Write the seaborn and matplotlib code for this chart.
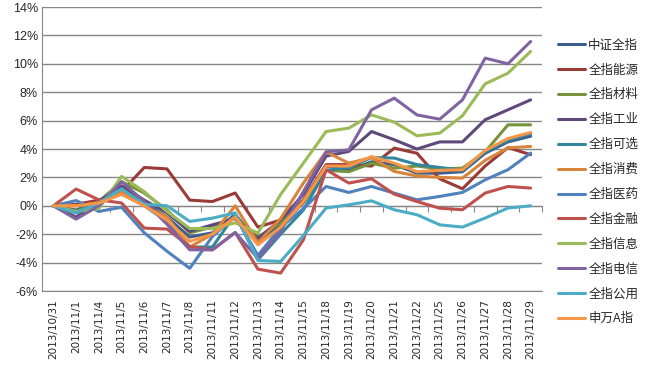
import pandas as pd
import matplotlib
matplotlib.use("Agg")
import matplotlib.pyplot as plt
import seaborn as sns

# trading days
dates = ['2013/10/31', '2013/11/1', '2013/11/4', '2013/11/5', '2013/11/6', '2013/11/7',
         '2013/11/8', '2013/11/11', '2013/11/12', '2013/11/13', '2013/11/14', '2013/11/15',
         '2013/11/18', '2013/11/19', '2013/11/20', '2013/11/21', '2013/11/22', '2013/11/25',
         '2013/11/26', '2013/11/27', '2013/11/28', '2013/11/29']

# cumulative returns in %
zz_all = [0, -0.3, 0.3, 1.3, 0.2, -0.8, -2.2, -1.9, -0.6, -2.6, -1.3, 0.2, 2.8, 2.5, 3.1, 2.9, 2.3, 2.3, 2.4, 3.7, 4.5, 4.9]
energy = [0, 0.1, 0.4, 1.0, 2.7, 2.6, 0.4, 0.3, 0.9, -1.5, -1.0, 0.4, 2.9, 2.9, 2.8, 4.06, 3.7, 1.9, 1.2, 2.8, 4.1, 3.6]
materials = [0, -0.4, 0.3, 1.7, 0.9, -0.3, -1.9, -1.5, -0.8, -2.2, -1.2, 0.3, 2.5, 2.4, 3.0, 2.65, 2.8, 2.6, 2.65, 3.8, 5.7, 5.7]
industry = [0, -0.8, 0.3, 1.4, 0.4, -0.5, -1.8, -1.34, -0.9, -2.3, -1.0, 0.8, 3.5, 3.83, 5.23, 4.65, 4.0, 4.5, 4.5, 6.06, 6.76, 7.46]
discretionary = [0, -0.5, 0.2, 1.1, 0.0, -1.1, -2.9, -2.9, -0.6, -3.8, -2.0, -0.3, 2.5, 2.7, 3.4, 3.36, 2.9, 2.7, 2.5, 3.8, 4.6, 5.07]
staples = [0, 0.0, 0.2, 1.0, 0.0, -0.8, -2.9, -2.0, 0.0, -2.6, -0.9, 1.6, 3.8, 3.0, 3.4, 2.42, 2.1, 2.0, 1.95, 3.2, 4.08, 4.18]
health = [0, 0.37, -0.4, -0.1, -1.9, -3.2, -4.4, -2.16, -0.7, -3.5, -1.5, -0.2, 1.36, 0.94, 1.36, 0.89, 0.42, 0.66, 0.94, 1.83, 2.54, 3.71]
finance = [0, 1.18, 0.42, 0.2, -1.57, -1.64, -2.87, -3.1, -1.88, -4.46, -4.74, -2.4, 2.54, 1.6, 1.9, 0.82, 0.3, -0.17, -0.28, 0.9, 1.36, 1.25]
info_tech = [0, -0.4, -0.2, 2.07, 1.0, -0.4, -1.6, -1.6, -1.2, -1.92, 0.8, 3.0, 5.23, 5.47, 6.4, 5.89, 4.93, 5.12, 6.34, 8.59, 9.34, 10.87]
telecom = [0, -0.94, 0.0, 1.7, 0.3, -1.3, -3.1, -3.1, -1.88, -3.7, -1.8, 1.0, 3.8, 3.94, 6.76, 7.58, 6.4, 6.1, 7.46, 10.4, 10.0, 11.57]
utilities = [0, -0.5, 0.2, 1.2, 0.1, 0.0, -1.1, -0.87, -0.5, -3.85, -3.92, -2.1, -0.16, 0.07, 0.35, -0.28, -0.63, -1.34, -1.5, -0.86, -0.16, 0.0]
sw_a = [0, 0.0, 0.2, 0.8, 0.0, -1.0, -2.5, -2.0, -0.8, -2.75, -1.5, 0.3, 2.8, 2.8, 3.47, 3.0, 2.4, 2.5, 2.54, 3.9, 4.74, 5.16]

names = ['中证全指', '全指能源', '全指材料', '全指工业', '全指可选', '全指消费',
         '全指医药', '全指金融', '全指信息', '全指电信', '全指公用', '申万A指']
series = [zz_all, energy, materials, industry, discretionary, staples,
          health, finance, info_tech, telecom, utilities, sw_a]
colors = ['#3B5E8C', '#9A3B38', '#77933C', '#5F497A', '#31859C', '#D9843B',
          '#4F81BD', '#C0504D', '#9BBB59', '#8064A2', '#4BACC6', '#F79646']

rows = []
for name, vals in zip(names, series):
    for i, v in enumerate(vals):
        rows.append({'idx': i, 'value': v / 100.0, 'name': name})
df = pd.DataFrame(rows)

sns.set_style('white')
plt.rcParams['font.family'] = ['Noto Sans CJK SC', 'DejaVu Sans']

fig = plt.figure(figsize=(6.5, 3.68), dpi=100)
ax = fig.add_axes([42 / 650, 77 / 368, 500 / 650, 284 / 368])

sns.lineplot(data=df, x='idx', y='value', hue='name', hue_order=names,
             palette=dict(zip(names, colors)), linewidth=2.2, ax=ax)

ax.set_xlim(-0.5, len(dates) - 0.5)
ax.set_ylim(-0.06, 0.14)
yt = [x / 100 for x in range(-6, 15, 2)]
ax.set_yticks(yt)
ax.set_yticklabels([f'{int(round(t * 100))}%' for t in yt], family='Liberation Sans', fontsize=9)
ax.yaxis.grid(True, color='#868686', linewidth=1)
ax.set_axisbelow(True)
ax.set_xticks(range(len(dates)))
ax.set_xticklabels(dates, rotation=90, family='DejaVu Sans', fontsize=7.5)
ax.tick_params(axis='x', length=0, pad=6)
ax.tick_params(axis='y', length=0, pad=3)
ax.set_xlabel('')
ax.set_ylabel('')
for s in ['top', 'right']:
    ax.spines[s].set_visible(False)
ax.spines['left'].set_color('#868686')
ax.spines['bottom'].set_color('#868686')

# category axis crossing at 0%
sec = ax.secondary_xaxis(6 / 20)
sec.set_xticks([i + 0.5 for i in range(-1, len(dates))])
sec.set_xticklabels([])
sec.tick_params(direction='out', length=4, color='#868686')
sec.spines['bottom'].set_color('#868686')

ax.legend(loc='center left', bbox_to_anchor=(1.01, 0.384), frameon=False,
          fontsize=9, handlelength=2.15, labelspacing=0.95, handletextpad=0.25)

fig.savefig('out.png', dpi=100)
